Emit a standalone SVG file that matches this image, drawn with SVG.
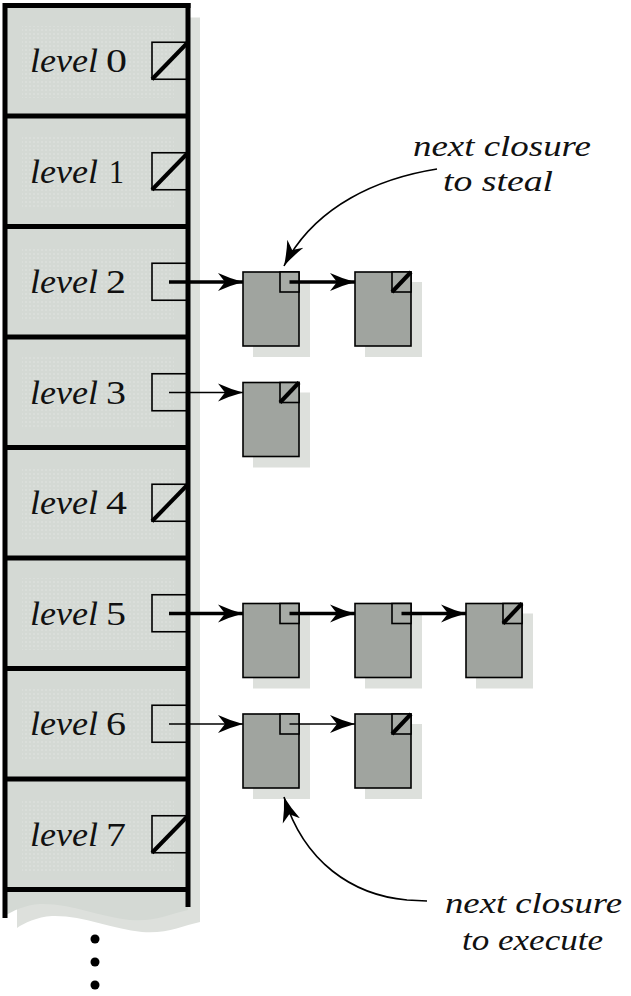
<svg xmlns="http://www.w3.org/2000/svg" width="631" height="996" viewBox="0 0 631 996">
<style>
.lbl{font-family:"Liberation Serif","Times New Roman",serif;font-size:33px;fill:#111}
.it{font-style:italic}
.ann{font-family:"Liberation Serif","Times New Roman",serif;font-size:30px;font-style:italic;fill:#111}
.ptr{fill:none;stroke:#000;stroke-width:1.6}
.nul{stroke:#000;stroke-width:4;stroke-linecap:butt}
.clo{fill:#a0a49f;stroke:#000;stroke-width:1.6}
.cor{fill:#a7aba6;stroke:#000;stroke-width:1.6}
.shd{fill:#dde0dc}
.thick{stroke:#000;stroke-width:3.5;fill:none}
.thin{stroke:#000;stroke-width:1.5;fill:none}
.curve{stroke:#000;stroke-width:1.6;fill:none}
.div{stroke:#000;stroke-width:5}
</style>
<defs>
<marker id="ah" markerUnits="userSpaceOnUse" markerWidth="26" markerHeight="20" refX="25" refY="10" orient="auto" viewBox="0 0 26 20">
<path d="M25,10 Q12,6.5 0,1 L7,10 L0,19 Q12,13.5 25,10 Z" fill="#000"/>
</marker>
<pattern id="dots" width="4" height="4" patternUnits="userSpaceOnUse">
<rect width="4" height="4" fill="#d4d9d4"/>
<circle cx="2" cy="2" r="0.8" fill="#e2e6e2"/>
</pattern>
<path id="colshape" d="M5,5.5 L188,5.5 L188,910 C170,914 155,922 130,920 C100,917 70,903 40,904 C25,905 12,911 5,916 Z"/>
</defs>
<rect width="631" height="996" fill="#fff"/>

<g id="column">
<use href="#colshape" class="shd" transform="translate(12,12)"/>
<use href="#colshape" fill="#d4d9d4"/>
<g fill="url(#dots)">
<rect x="22" y="26" width="152" height="72"/>
<rect x="22" y="136" width="152" height="72"/>
<rect x="22" y="247" width="152" height="72"/>
<rect x="22" y="357" width="152" height="72"/>
<rect x="22" y="468" width="152" height="72"/>
<rect x="22" y="578" width="152" height="72"/>
<rect x="22" y="689" width="152" height="72"/>
<rect x="22" y="799" width="152" height="72"/>
</g>
<line class="div" x1="3" y1="5.5" x2="190.5" y2="5.5"/>
<line class="div" x1="5" y1="3" x2="5" y2="918"/>
<line class="div" x1="188" y1="3" x2="188" y2="907"/>
<line class="div" x1="5" y1="116" x2="188" y2="116"/>
<line class="div" x1="5" y1="226.5" x2="188" y2="226.5"/>
<line class="div" x1="5" y1="337" x2="188" y2="337"/>
<line class="div" x1="5" y1="447.5" x2="188" y2="447.5"/>
<line class="div" x1="5" y1="558" x2="188" y2="558"/>
<line class="div" x1="5" y1="668.5" x2="188" y2="668.5"/>
<line class="div" x1="5" y1="779" x2="188" y2="779"/>
<line class="div" x1="5" y1="889.5" x2="188" y2="889.5"/>
<circle cx="95" cy="939" r="4.5"/>
<circle cx="95" cy="962" r="4.5"/>
<circle cx="95" cy="985" r="4.5"/>
</g>

<g id="level0">
<text class="lbl" y="72"><tspan class="it" x="30" textLength="68" lengthAdjust="spacingAndGlyphs">level</tspan><tspan x="106" textLength="21" lengthAdjust="spacingAndGlyphs">0</tspan></text>
<rect class="ptr" x="152" y="42.25" width="36" height="37"/>
<line class="nul" x1="152" y1="79.25" x2="188" y2="42.25"/>
</g>
<g id="level1">
<text class="lbl" y="182.5"><tspan class="it" x="30" textLength="68" lengthAdjust="spacingAndGlyphs">level</tspan><tspan x="109" textLength="15" lengthAdjust="spacingAndGlyphs">1</tspan></text>
<rect class="ptr" x="152" y="152.75" width="36" height="37"/>
<line class="nul" x1="152" y1="189.75" x2="188" y2="152.75"/>
</g>
<g id="level2">
<text class="lbl" y="293"><tspan class="it" x="30" textLength="68" lengthAdjust="spacingAndGlyphs">level</tspan><tspan x="106" textLength="20" lengthAdjust="spacingAndGlyphs">2</tspan></text>
<rect class="ptr" x="152" y="263.25" width="36" height="37"/>
</g>
<g id="level3">
<text class="lbl" y="403.5"><tspan class="it" x="30" textLength="68" lengthAdjust="spacingAndGlyphs">level</tspan><tspan x="106" textLength="20" lengthAdjust="spacingAndGlyphs">3</tspan></text>
<rect class="ptr" x="152" y="373.75" width="36" height="37"/>
</g>
<g id="level4">
<text class="lbl" y="514"><tspan class="it" x="30" textLength="68" lengthAdjust="spacingAndGlyphs">level</tspan><tspan x="106" textLength="21" lengthAdjust="spacingAndGlyphs">4</tspan></text>
<rect class="ptr" x="152" y="484.25" width="36" height="37"/>
<line class="nul" x1="152" y1="521.25" x2="188" y2="484.25"/>
</g>
<g id="level5">
<text class="lbl" y="624.5"><tspan class="it" x="30" textLength="68" lengthAdjust="spacingAndGlyphs">level</tspan><tspan x="106" textLength="20" lengthAdjust="spacingAndGlyphs">5</tspan></text>
<rect class="ptr" x="152" y="594.75" width="36" height="37"/>
</g>
<g id="level6">
<text class="lbl" y="735"><tspan class="it" x="30" textLength="68" lengthAdjust="spacingAndGlyphs">level</tspan><tspan x="106" textLength="20" lengthAdjust="spacingAndGlyphs">6</tspan></text>
<rect class="ptr" x="152" y="705.25" width="36" height="37"/>
</g>
<g id="level7">
<text class="lbl" y="845.5"><tspan class="it" x="30" textLength="68" lengthAdjust="spacingAndGlyphs">level</tspan><tspan x="106" textLength="20" lengthAdjust="spacingAndGlyphs">7</tspan></text>
<rect class="ptr" x="152" y="815.75" width="36" height="37"/>
<line class="nul" x1="152" y1="852.75" x2="188" y2="815.75"/>
</g>

<g id="c2a">
<rect class="shd" x="253" y="282" width="57" height="75"/>
<rect class="clo" x="243" y="272" width="56" height="74"/>
<rect class="cor" x="280" y="272" width="19" height="20"/>
</g>
<g id="c2b">
<rect class="shd" x="365" y="282" width="57" height="75"/>
<rect class="clo" x="355" y="272" width="56" height="74"/>
<rect class="cor" x="392" y="272" width="19" height="20"/>
<line class="nul" x1="392" y1="292" x2="411" y2="272"/>
</g>
<g id="c3a">
<rect class="shd" x="253" y="392.5" width="57" height="75"/>
<rect class="clo" x="243" y="382.5" width="56" height="74"/>
<rect class="cor" x="280" y="382.5" width="19" height="20"/>
<line class="nul" x1="280" y1="402.5" x2="299" y2="382.5"/>
</g>
<g id="c5a">
<rect class="shd" x="253" y="613.5" width="57" height="75"/>
<rect class="clo" x="243" y="603.5" width="56" height="74"/>
<rect class="cor" x="280" y="603.5" width="19" height="20"/>
</g>
<g id="c5b">
<rect class="shd" x="365" y="613.5" width="57" height="75"/>
<rect class="clo" x="355" y="603.5" width="56" height="74"/>
<rect class="cor" x="392" y="603.5" width="19" height="20"/>
</g>
<g id="c5c">
<rect class="shd" x="476" y="613.5" width="57" height="75"/>
<rect class="clo" x="466" y="603.5" width="56" height="74"/>
<rect class="cor" x="503" y="603.5" width="19" height="20"/>
<line class="nul" x1="503" y1="623.5" x2="522" y2="603.5"/>
</g>
<g id="c6a">
<rect class="shd" x="253" y="724" width="57" height="75"/>
<rect class="clo" x="243" y="714" width="56" height="74"/>
<rect class="cor" x="280" y="714" width="19" height="20"/>
</g>
<g id="c6b">
<rect class="shd" x="365" y="724" width="57" height="75"/>
<rect class="clo" x="355" y="714" width="56" height="74"/>
<rect class="cor" x="392" y="714" width="19" height="20"/>
<line class="nul" x1="392" y1="734" x2="411" y2="714"/>
</g>

<g id="ann-steal">
<text class="ann" x="413" y="156" textLength="178" lengthAdjust="spacingAndGlyphs">next closure</text>
<text class="ann" x="443" y="191" textLength="110" lengthAdjust="spacingAndGlyphs">to steal</text>
</g>
<g id="ann-exec">
<text class="ann" x="445" y="913" textLength="177" lengthAdjust="spacingAndGlyphs">next closure</text>
<text class="ann" x="462" y="950" textLength="141" lengthAdjust="spacingAndGlyphs">to execute</text>
</g>

<g id="connectors">
<line class="thick" x1="169" y1="282" x2="243" y2="282" marker-end="url(#ah)"/>
<line class="thick" x1="289.5" y1="282" x2="355" y2="282" marker-end="url(#ah)"/>
<line class="thin" x1="169" y1="392.5" x2="243" y2="392.5" marker-end="url(#ah)"/>
<line class="thick" x1="169" y1="613.5" x2="243" y2="613.5" marker-end="url(#ah)"/>
<line class="thick" x1="289.5" y1="613.5" x2="355" y2="613.5" marker-end="url(#ah)"/>
<line class="thick" x1="401.5" y1="613.5" x2="466" y2="613.5" marker-end="url(#ah)"/>
<line class="thin" x1="169" y1="724" x2="243" y2="724" marker-end="url(#ah)"/>
<line class="thin" x1="289.5" y1="724" x2="355" y2="724" marker-end="url(#ah)"/>
<path class="curve" d="M437,169 C380,178 315,205 284,266" marker-end="url(#ah)"/>
<path class="curve" d="M427,901 L407,900 C352,895 304,862 284,797" marker-end="url(#ah)"/>
</g>
</svg>
